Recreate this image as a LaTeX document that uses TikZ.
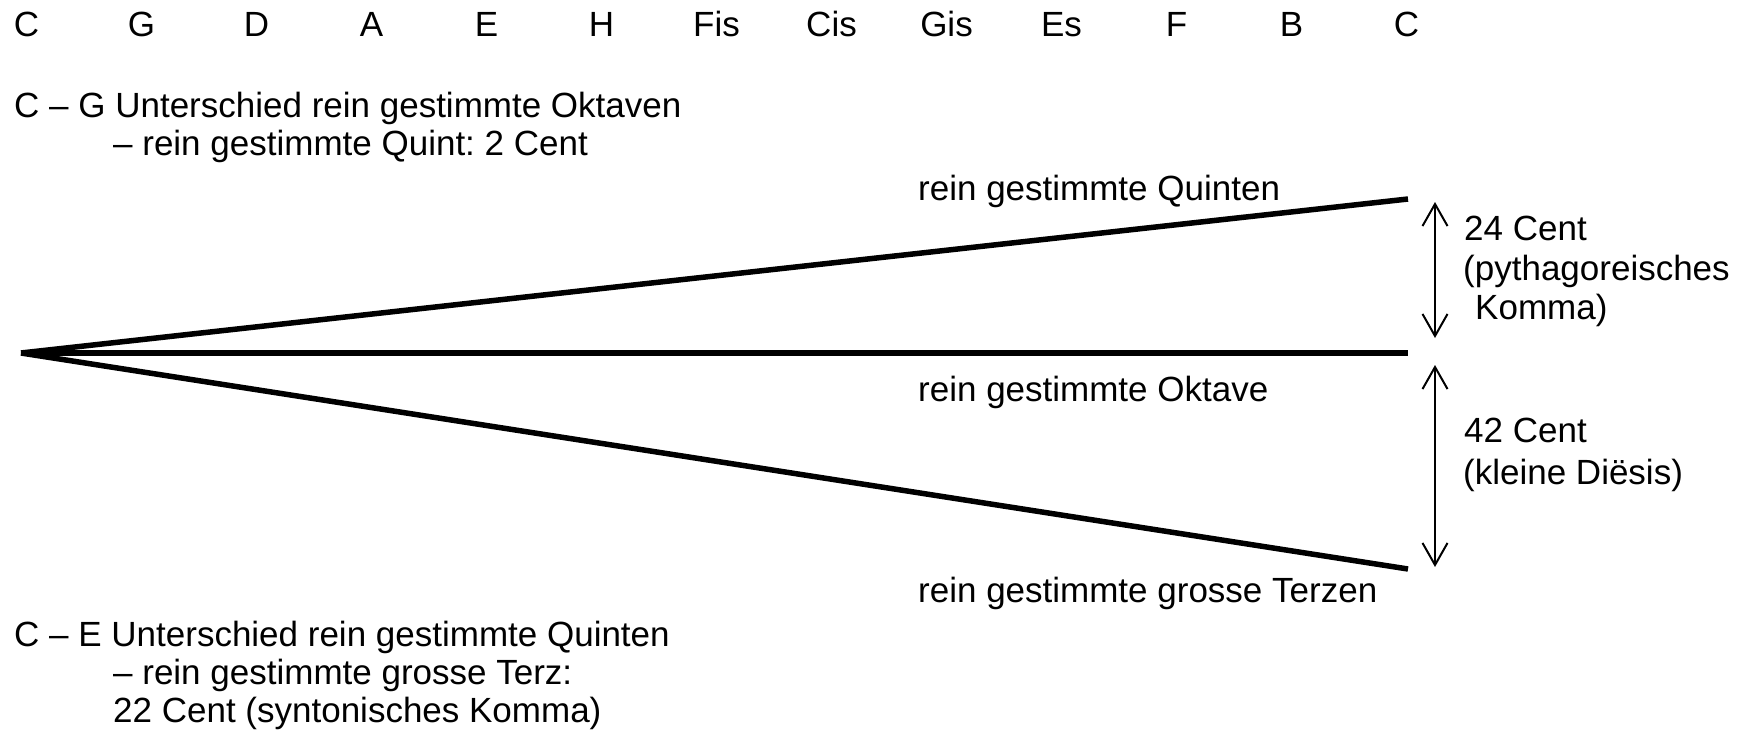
\documentclass[tikz,border=0pt]{standalone}
\usepackage{fontspec}
\setmainfont{Liberation Sans}
\usetikzlibrary{arrows.meta}
\frenchspacing
\begin{document}
\begin{tikzpicture}[x=1pt,y=-1pt,
  txt/.style={inner sep=0pt, font=\fontsize{35}{38}\selectfont},
  lbl/.style={txt, anchor=base west},
  tone/.style={txt, anchor=base},
  beam/.style={line width=5.5pt},
  barb/.tip={Straight Barb[length=22pt,width=25pt,line width=2pt]},
  gapline/.style={line width=2pt, barb-barb}]
\fill[white] (0,0) rectangle (1751,733);
\useasboundingbox (0,0) rectangle (1751,733);
% tone row
\foreach \n/\t [count=\i from 0] in {c1/C,g/G,d/D,a/A,e/E,h/H,fis/Fis,cis/Cis,gis/Gis,es/Es,f/F,b/B,c2/C}
  \node[tone] (\n) at ({26.5+115*\i},37) {\t};
% top notes
\node[lbl] (cg1) at (14,118) {C – G Unterschied rein gestimmte Oktaven};
\node[lbl] (cg2) at (113,156) {– rein gestimmte Quint: 2 Cent};
% beams
\coordinate (O) at (21,353);
\coordinate (Qend) at (1408,199);
\coordinate (Oend) at (1408,353);
\coordinate (Tend) at (1408,569);
\draw[beam] (O) -- (Qend);
\draw[beam] (O) -- (Oend);
\draw[beam] (O) -- (Tend);
% beam labels
\node[lbl] (quinten) at (918,200) {rein gestimmte Quinten};
\node[lbl] (oktave) at (918,401) {rein gestimmte Oktave};
\node[lbl] (terzen) at (918,602) {rein gestimmte grosse Terzen};
% gap arrows
\coordinate (a1t) at (1435,202);
\coordinate (a1b) at (1435,338);
\coordinate (a2t) at (1435,365);
\coordinate (a2b) at (1435,567);
\draw[gapline] (a1t) -- (a1b);
\draw[gapline] (a2t) -- (a2b);
% gap labels
\node[lbl] (c24) at (1464,240) {24 Cent};
\node[lbl] (pyth) at (1463,280) {(pythagoreisches};
\node[lbl] (komma) at (1475,319) {Komma)};
\node[lbl] (c42) at (1464,442) {42 Cent};
\node[lbl] (dies) at (1463,484) {(kleine Diësis)};
% bottom notes
\node[lbl] (ce1) at (14,646) {C – E Unterschied rein gestimmte Quinten};
\node[lbl] (ce2) at (113,684) {– rein gestimmte grosse Terz:};
\node[lbl] (ce3) at (113,722) {22 Cent (syntonisches Komma)};
\end{tikzpicture}
\end{document}
